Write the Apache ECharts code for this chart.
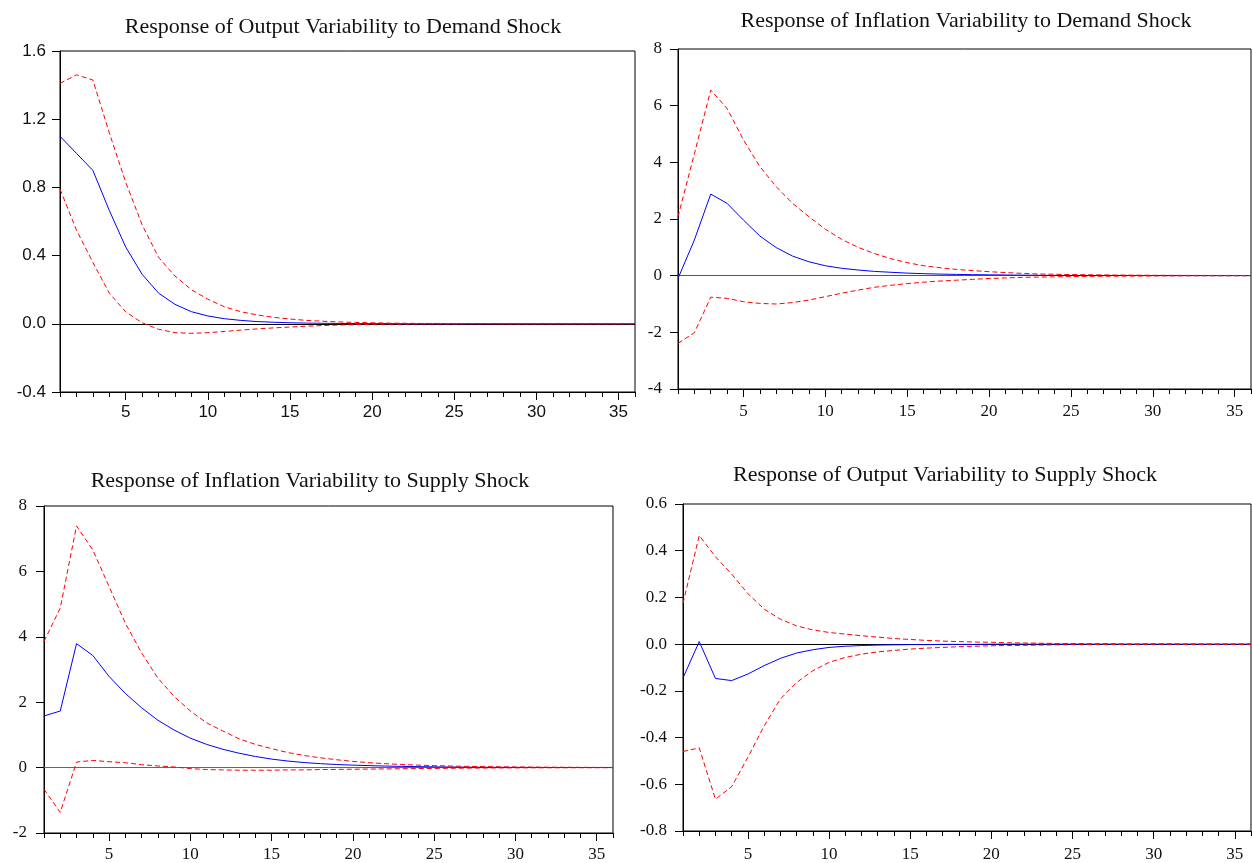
<!DOCTYPE html>
<html>
<head>
<meta charset="utf-8">
<script src="https://cdn.jsdelivr.net/npm/echarts@6/dist/echarts.min.js"></script>
<style>html,body{margin:0;padding:0;background:#fff}#c{width:1252px;height:863px}</style>
</head>
<body>
<div id="c"></div>
<script>
// Periods (horizontal axis)
const periods = Array.from({length: 36}, (_, i) => String(i + 1));

// Panel titles
const titles = [
  'Response of Output Variability to Demand Shock',
  'Response of Inflation Variability to Demand Shock',
  'Response of Inflation Variability to Supply Shock',
  'Response of Output Variability to Supply Shock'
];

// Panel 1: Output to Demand
const outDemMid = [1.10,1.00,0.90,0.665,0.45,0.29,0.18,0.114,0.071,0.046,0.030,0.020,0.013,0.009,0.006,0.004,0.003,0.002,0.001,0.001,0.001,0,0,0,0,0,0,0,0,0,0,0,0,0,0,0];
const outDemUp  = [1.41,1.46,1.43,1.12,0.83,0.58,0.39,0.28,0.20,0.144,0.10,0.071,0.052,0.038,0.028,0.020,0.015,0.011,0.008,0.006,0.004,0.003,0.002,0.002,0.001,0.001,0.001,0,0,0,0,0,0,0,0,0];
const outDemLo  = [0.79,0.55,0.36,0.18,0.07,0.006,-0.032,-0.052,-0.056,-0.052,-0.045,-0.037,-0.030,-0.024,-0.019,-0.014,-0.010,-0.007,-0.005,-0.003,-0.002,-0.002,-0.001,-0.001,-0.001,0,0,0,0,0,0,0,0,0,0,0];

// Panel 2: Inflation to Demand
const infDemMid = [-0.10,1.26,2.88,2.55,1.96,1.40,0.99,0.69,0.49,0.35,0.26,0.20,0.15,0.12,0.09,0.07,0.055,0.045,0.036,0.029,0.023,0.018,0.014,0.011,0.009,0.007,0.006,0.005,0.004,0.003,0.002,0.002,0.002,0.001,0.001,0.001];
const infDemUp  = [2.08,4.30,6.55,5.90,4.79,3.85,3.14,2.55,2.08,1.64,1.28,1.00,0.78,0.60,0.46,0.35,0.28,0.22,0.18,0.14,0.11,0.08,0.06,0.05,0.04,0.032,0.026,0.021,0.017,0.014,0.012,0.010,0.008,0.007,0.006,0.005];
const infDemLo  = [-2.39,-2.01,-0.76,-0.80,-0.92,-0.98,-1.00,-0.95,-0.86,-0.74,-0.62,-0.51,-0.41,-0.34,-0.28,-0.23,-0.19,-0.16,-0.13,-0.10,-0.08,-0.06,-0.05,-0.04,-0.032,-0.025,-0.02,-0.016,-0.013,-0.01,-0.008,-0.006,-0.005,-0.004,-0.003,-0.003];

// Panel 3: Inflation to Supply
const infSupMid = [1.58,1.73,3.79,3.43,2.79,2.27,1.83,1.45,1.15,0.90,0.71,0.56,0.44,0.34,0.26,0.20,0.155,0.12,0.095,0.075,0.06,0.047,0.037,0.029,0.023,0.018,0.014,0.011,0.009,0.007,0.005,0.004,0.003,0.003,0.002,0.002];
const infSupUp  = [3.86,4.88,7.39,6.66,5.54,4.42,3.51,2.74,2.18,1.73,1.37,1.12,0.88,0.71,0.58,0.46,0.37,0.30,0.24,0.19,0.15,0.12,0.095,0.075,0.06,0.048,0.038,0.03,0.024,0.019,0.015,0.012,0.01,0.008,0.006,0.005];
const infSupLo  = [-0.66,-1.37,0.17,0.22,0.18,0.15,0.09,0.05,0.02,-0.03,-0.06,-0.07,-0.08,-0.08,-0.08,-0.07,-0.07,-0.06,-0.055,-0.05,-0.045,-0.04,-0.035,-0.03,-0.025,-0.02,-0.017,-0.014,-0.011,-0.009,-0.007,-0.006,-0.005,-0.004,-0.003,-0.002];

// Panel 4: Output to Supply
const outSupMid = [-0.145,0.011,-0.147,-0.156,-0.128,-0.092,-0.061,-0.038,-0.024,-0.014,-0.009,-0.006,-0.004,-0.003,-0.002,-0.002,-0.001,-0.001,-0.001,0,0,0,0,0,0,0,0,0,0,0,0,0,0,0,0,0];
const outSupUp  = [0.175,0.465,0.374,0.30,0.216,0.15,0.107,0.078,0.061,0.05,0.043,0.036,0.030,0.024,0.020,0.016,0.013,0.011,0.009,0.008,0.006,0.005,0.004,0.003,0.003,0.002,0.002,0.001,0.001,0.001,0.001,0,0,0,0,0];
const outSupLo  = [-0.46,-0.444,-0.664,-0.61,-0.484,-0.35,-0.235,-0.164,-0.114,-0.078,-0.057,-0.043,-0.033,-0.027,-0.021,-0.017,-0.014,-0.011,-0.009,-0.007,-0.006,-0.005,-0.004,-0.003,-0.002,-0.002,-0.001,-0.001,-0.001,0,0,0,0,0,0,0];

// Y axis scales per panel
const yMin = [-0.4, -4, -2, -0.8];
const yMax = [1.6, 8, 8, 0.6];
const yStep = [0.4, 2, 2, 0.2];
const yDecimals = [1, 0, 0, 1];

const panelData = [
  [outDemMid, outDemUp, outDemLo],
  [infDemMid, infDemUp, infDemLo],
  [infSupMid, infSupUp, infSupLo],
  [outSupMid, outSupUp, outSupLo]
];

// layout (styles)
const grids = [
  {left: 60, top: 51, width: 575, height: 341},
  {left: 678, top: 49, width: 573, height: 340},
  {left: 44, top: 506, width: 569, height: 328},
  {left: 683, top: 504, width: 568, height: 328}
];
const titlePos = [[343, 27], [966, 21], [310, 481], [945, 475]];
const SANS = 'Liberation Sans, Arial, sans-serif';
const SERIF = 'Liberation Serif, Times New Roman, serif';
const tickFonts = [SANS, SERIF, SERIF, SERIF];
const yLabelMargin = [14, 16, 17, 16];
const xLabelMargin = [12, 14, 13, 15];
const zeroColor = ['#000', '#555', '#666', '#000'];

const option = {
  animation: false,
  backgroundColor: '#fff',
  grid: [], xAxis: [], yAxis: [], series: [],
  graphic: []
};

for (let p = 0; p < 4; p++) {
  option.grid.push(Object.assign({show: true, borderColor: '#000', borderWidth: 1, backgroundColor: 'transparent', containLabel: false}, grids[p]));
  const fontSize = tickFonts[p] === SANS ? 17 : 17;
  // main x axis: labels + minor ticks
  option.xAxis.push({
    type: 'category', gridIndex: p, data: periods, boundaryGap: false, position: 'bottom',
    axisLine: {onZero: false, lineStyle: {color: '#000', width: 1}},
    axisTick: {show: true, interval: 0, length: 5, lineStyle: {color: '#000'}},
    axisLabel: {
      interval: (i) => (i + 1) % 5 === 0,
      color: '#111', fontFamily: tickFonts[p], fontSize: fontSize, margin: xLabelMargin[p]
    },
    splitLine: {show: false}
  });
  // overlay x axis: major ticks
  option.xAxis.push({
    type: 'category', gridIndex: p, data: periods, boundaryGap: false, position: 'bottom',
    axisLine: {show: false, onZero: false},
    axisTick: {show: true, interval: (i) => (i + 1) % 5 === 0, length: 8, lineStyle: {color: '#000'}},
    axisLabel: {show: false},
    splitLine: {show: false}
  });
  option.yAxis.push({
    type: 'value', gridIndex: p, min: yMin[p], max: yMax[p], interval: yStep[p],
    axisLine: {show: true, onZero: false, lineStyle: {color: '#000'}},
    axisTick: {show: true, length: 8, lineStyle: {color: '#000'}},
    axisLabel: {
      color: '#111', fontFamily: tickFonts[p], fontSize: fontSize, margin: yLabelMargin[p],
      formatter: (v) => (Math.abs(v) < 1e-9 ? 0 : v).toFixed(yDecimals[p])
    },
    splitLine: {show: false}
  });
  const [mid, up, lo] = panelData[p];
  option.series.push({
    type: 'line', xAxisIndex: 2 * p, yAxisIndex: p, data: mid, showSymbol: false, symbol: 'none',
    lineStyle: {color: '#0000ff', width: 1}, z: 3,
    markLine: {
      silent: true, symbol: 'none', label: {show: false},
      lineStyle: {color: zeroColor[p], type: 'solid', width: 1},
      data: [{yAxis: 0}], z: 2
    }
  });
  option.series.push({
    type: 'line', xAxisIndex: 2 * p, yAxisIndex: p, data: up, showSymbol: false, symbol: 'none',
    lineStyle: {color: '#ff0000', width: 1, type: [5, 3]}, z: 4
  });
  option.series.push({
    type: 'line', xAxisIndex: 2 * p, yAxisIndex: p, data: lo, showSymbol: false, symbol: 'none',
    lineStyle: {color: '#ff0000', width: 1, type: [5, 3]}, z: 4
  });
  option.graphic.push({
    type: 'text', x: titlePos[p][0], y: titlePos[p][1],
    style: {
      text: titles[p], fill: '#111', font: '22px ' + SERIF,
      textAlign: 'center', textVerticalAlign: 'middle'
    }
  });
}

const chart = echarts.init(document.getElementById('c'), null, {renderer: 'canvas'});
chart.setOption(option);
</script>
</body>
</html>
